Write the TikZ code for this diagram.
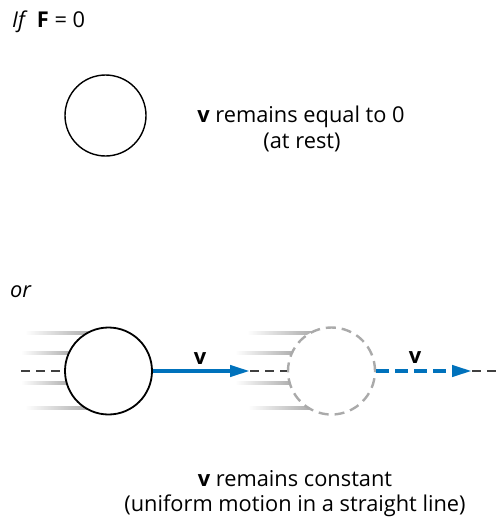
\documentclass[tikz,border=0pt]{standalone}
\usepackage{fontspec}
\setmainfont{Open Sans}
\usetikzlibrary{arrows.meta}
\definecolor{vblue}{RGB}{0,114,188}
\definecolor{dgray}{RGB}{170,170,170}
\tikzset{
  txt/.style={font=\fontsize{21.8}{25}\selectfont, inner sep=0pt, anchor=base},
  ball/.style={circle, draw=black, line width=1.8pt, fill=white, inner sep=0pt, minimum size=87pt},
  ghost/.style={circle, draw=dgray, line width=2.4pt, dash pattern=on 10pt off 6pt, fill=white, inner sep=0pt, minimum size=87pt},
  axis/.style={draw=black!75, line width=1.1pt, dash pattern=on 9pt off 6pt},
  vel/.style={draw=vblue, line width=4pt, -{Triangle[length=20pt,width=11pt]}, shorten >=0pt},
  veldash/.style={vel, dash pattern=on 13pt off 6pt},
  streak/.style={left color=white, right color=black!32}
}
\begin{document}
\begin{tikzpicture}[x=1pt,y=-1pt]
\useasboundingbox (0,0) rectangle (498,519);
% top
\node[txt, anchor=base west] (iff) at (12,28) {\textit{If}\, \textbf{F} = 0};
\node[circle, draw=black, line width=1.4pt, inner sep=0pt, minimum size=81pt] (rest) at (105.5,115.5) {};
\node[txt] (t1) at (301,122) {\textbf{v} remains equal to 0};
\node[txt] (t2) at (302,148) {(at rest)};
% or
\node[txt, anchor=base west] (or) at (10,297) {\textit{or}};
% streaks ball 1
\shade[streak] (25,331.3) rectangle (90,334.7);
\shade[streak] (21,351.3) rectangle (72,354.7);
\shade[streak] (21,381.3) rectangle (70,384.7);
\shade[streak] (25,406.3) rectangle (88,409.7);
% streaks ball 2
\shade[streak] (247,331.3) rectangle (312,334.7);
\shade[streak] (235,351.3) rectangle (294,354.7);
\shade[streak] (235,381.3) rectangle (292,384.7);
\shade[streak] (248,406.3) rectangle (310,409.7);
% balls
\node[ball] (b1) at (108.5,371) {};
\node[ghost] (b2) at (331.5,371) {};
\coordinate (s0) at (21,371);
\coordinate (tip1) at (250,371);
\coordinate (tip2) at (472,371);
\coordinate (e0) at (498,371);
\draw[axis] (s0) -- (b1.west);
\draw[axis] (tip1) -- (b2.west);
\draw[axis] (tip2) -- (e0);
\draw[vel] (b1.east) -- (tip1);
\draw[veldash] (b2.east) -- (tip2);
\node[txt] (v1) at (200,364) {\textbf{v}};
\node[txt] (v2) at (415,363) {\textbf{v}};
% bottom
\node[txt] (t3) at (295,486) {\textbf{v} remains constant};
\node[txt] (t4) at (295,511) {(uniform motion in a straight line)};
\end{tikzpicture}
\end{document}
